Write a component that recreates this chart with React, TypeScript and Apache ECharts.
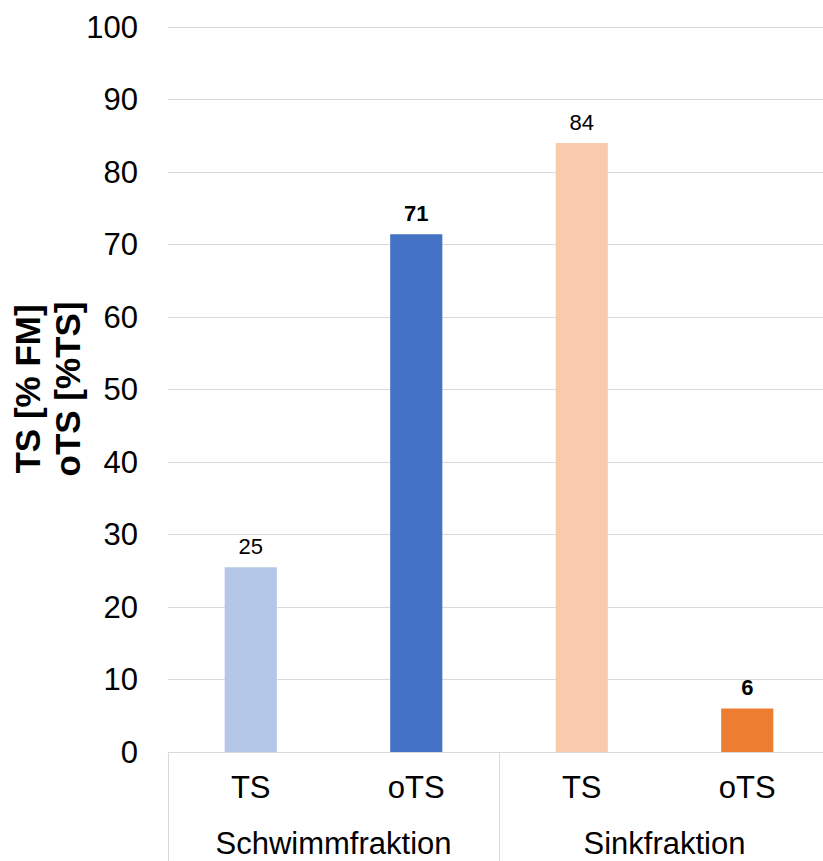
import React, { useEffect, useRef } from "react";
import * as echarts from "echarts";

const categories = ["TS", "oTS", "TS", "oTS"];
const groups = ["Schwimmfraktion", "Sinkfraktion"];
const values = [25.5, 71.4, 84.0, 6.0];
const labelTexts = ["25", "71", "84", "6"];
const boldLabels = [false, true, false, true];
const colors = ["#b4c7e7", "#4472c4", "#f8cbad", "#ed7d31"];
const yTitle = "TS [% FM]\noTS [%TS]";

const FONT = "'Liberation Sans', Arial, sans-serif";

export default function App() {
  const ref = useRef<HTMLDivElement>(null);
  useEffect(() => {
    if (!ref.current) return;
    const chart = echarts.init(ref.current, null, { renderer: "svg" });
    chart.setOption({
      animation: false,
      backgroundColor: "#ffffff",
      textStyle: { fontFamily: FONT },
      grid: {
        left: 168,
        right: -7,
        top: 27,
        bottom: 109,
        containLabel: false,
        outerBoundsMode: "none",
      },
      graphic: [
        {
          type: "text",
          x: 47,
          y: 389,
          rotation: Math.PI / 2,
          style: {
            text: yTitle,
            fontSize: 35,
            fontWeight: "bold",
            fontFamily: FONT,
            fill: "#000",
            lineHeight: 40,
            textAlign: "center",
            textVerticalAlign: "middle",
          },
        },
      ],
      xAxis: [
        {
          type: "category",
          data: categories,
          position: "bottom",
          axisLine: { show: true, lineStyle: { color: "#d9d9d9", width: 1 } },
          axisTick: { show: false },
          axisLabel: { fontSize: 31, color: "#000", margin: 20, fontFamily: FONT, interval: 0 },
        },
        {
          type: "category",
          data: groups,
          position: "bottom",
          offset: 0,
          axisLine: { show: false },
          axisTick: { show: true, length: 110, lineStyle: { color: "#d9d9d9", width: 1 } },
          axisLabel: { fontSize: 31, color: "#000", margin: 76, fontFamily: FONT, interval: 0 },
        },
      ],
      yAxis: {
        type: "value",
        min: 0,
        max: 100,
        interval: 10,
        axisLine: { show: false },
        axisTick: { show: false },
        splitLine: { show: true, lineStyle: { color: "#d9d9d9", width: 1 } },
        axisLabel: { fontSize: 31, color: "#000", margin: 30, fontFamily: FONT },
      },
      series: [
        {
          type: "bar",
          xAxisIndex: 0,
          barWidth: "31.5%",
          data: values.map((v, i) => ({
            value: v,
            itemStyle: { color: colors[i] },
            label: {
              show: true,
              position: "top",
              distance: 10,
              formatter: labelTexts[i],
              fontSize: 22,
              fontWeight: boldLabels[i] ? "bold" : "normal",
              color: "#000",
              fontFamily: FONT,
            },
          })),
        },
      ],
    });
    return () => chart.dispose();
  }, []);
  return (
    <div
      ref={ref}
      style={{ position: "absolute", left: 0, top: 0, width: 823, height: 861 }}
    />
  );
}
